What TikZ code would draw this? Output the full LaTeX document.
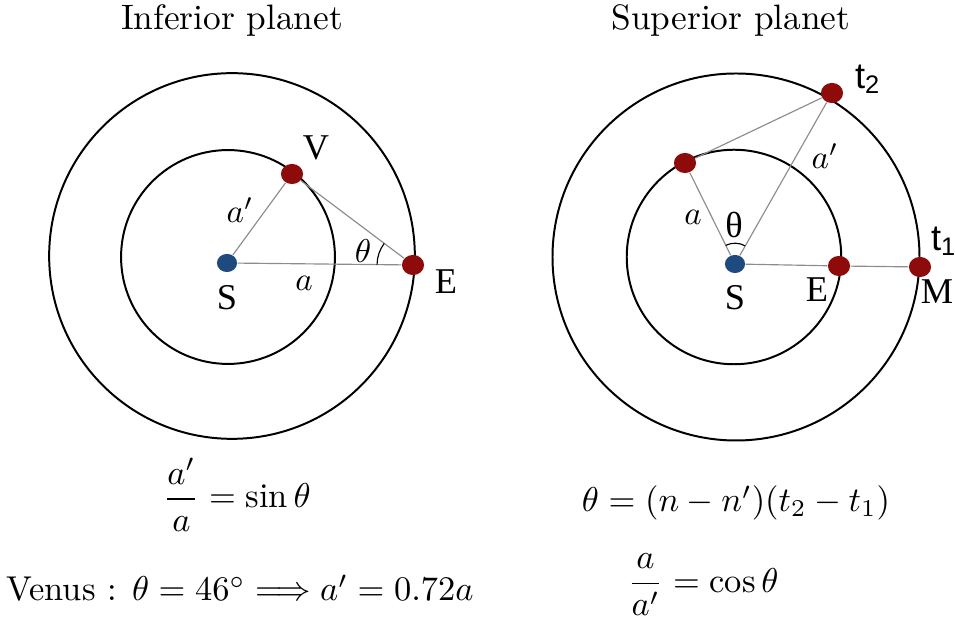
\documentclass[tikz,border=0pt]{standalone}
\usepackage{amsmath,amssymb}
\usepackage{fontspec}
\newfontfamily\serif{Liberation Serif}
\newfontfamily\sans{Liberation Sans}
\usepackage{tikz}
\usetikzlibrary{shapes.geometric,angles}
\definecolor{planetred}{HTML}{8E0B0B}
\definecolor{sunblue}{HTML}{1F4A80}
\newcommand{\formula}[1]{\scalebox{1.045}{#1}}

\begin{document}
\begin{tikzpicture}[
  x=0.303pt, y=-0.303pt,
  title/.style={font=\fontsize{10.7}{13}\selectfont},
  orbit/.style={draw, line width=0.6pt},
  link/.style={draw=gray!90, line width=0.35pt},
  planet/.style={ellipse, fill=planetred, minimum width=6.7pt,
                 minimum height=6.1pt, inner sep=0pt},
  sun/.style={ellipse, fill=sunblue, minimum width=6.1pt,
              minimum height=5.5pt, inner sep=0pt},
  lbl/.style={font=\serif\fontsize{11}{13}\selectfont},
  tlbl/.style={font=\sans\fontsize{11}{13}\selectfont},
]
  \useasboundingbox (0,0) rectangle (955,625);

  % Inferior planet
  \node[title] (titleI) at (232,20) {Inferior planet};
  \draw[orbit] (232,256) circle[radius=55.4pt];
  \draw[orbit] (228,257) circle[radius=32.4pt];
  \node[sun] (S) at (227,263) {};
  \node[planet] (V) at (292,174) {};
  \node[planet] (E) at (413,265) {};
  \draw[link] (S) -- (V);
  \draw[link] (V) -- (E);
  \draw[link] (S) -- (E);
  \pic[draw, line width=0.35pt, angle radius=10.9pt] {angle=V--E--S};
  \node[lbl] at (316,148) {V};
  \node[lbl] at (446,282) {E};
  \node[lbl] at (227,298) {S};
  \node at (240,210) {$a'$};
  \node at (304,283) {$a$};
  \node at (363,251) {$\theta$};

  % Formulas
  \node (sinf) at (237,495) {\formula{$\displaystyle \frac{a'}{a} = \sin\theta$}};
  \node (venus) at (240,588) {\formula{Venus : $\theta = 46^\circ \Longrightarrow a' = 0.72a$}};

  % Superior planet
  \node[title] (titleS) at (731,20) {Superior planet};
  \draw[orbit] (736,257) circle[radius=55.6pt];
  \draw[orbit] (734,257) circle[radius=32.5pt];
  \node[sun] (S2) at (735,264) {};
  \node[planet] (P1) at (685,163) {};
  \node[planet] (P2) at (832,93) {};
  \node[planet] (E2) at (839,266) {};
  \node[planet] (M) at (920,267) {};
  \draw[link] (S2) -- (P1);
  \draw[link] (P1) -- (P2);
  \draw[link] (S2) -- (P2);
  \draw[link] (S2) -- (E2);
  \draw[link] (E2) -- (M);
  \pic[draw, line width=0.35pt, angle radius=6.3pt] {angle=P2--S2--P1};
  \node[lbl] at (735,298) {S};
  \node[lbl] at (817,290) {E};
  \node[lbl] at (937,292) {M};
  \node[tlbl] at (868,79) {t\textsubscript{2}};
  \node[tlbl] at (944,241) {t\textsubscript{1}};
  \node at (825,156) {$a'$};
  \node at (693,217) {$a$};
  \node[lbl] at (734,225) {θ};

  % Formulas
  \node (thetaf) at (736,503) {\formula{$\theta = (n - n')(t_2 - t_1)$}};
  \node (cosf) at (703,585) {\formula{$\displaystyle \frac{a}{a'} = \cos\theta$}};
\end{tikzpicture}
\end{document}
